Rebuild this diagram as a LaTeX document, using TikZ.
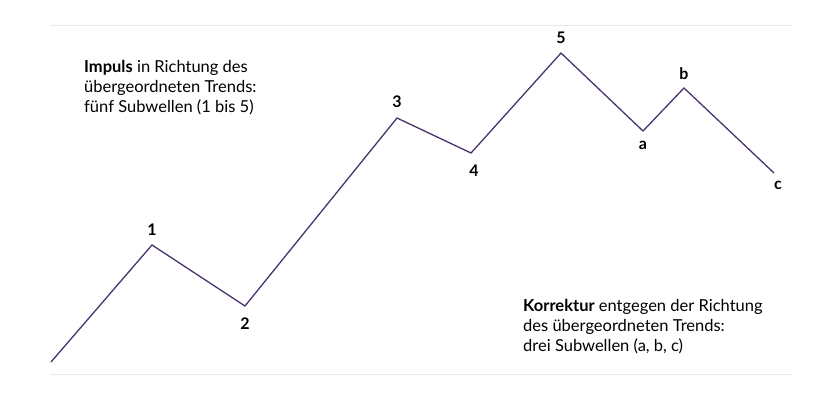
\documentclass[tikz,border=0pt]{standalone}
\usepackage{fontspec}
\setmainfont{Lato}
\definecolor{wave}{RGB}{75,50,110}
\definecolor{rule}{RGB}{232,232,232}
\begin{document}
\begin{tikzpicture}[x=1pt,y=-1pt,
  lbl/.style={font=\fontsize{16}{18}\selectfont\bfseries},
  txt/.style={font=\fontsize{16.5}{20}\selectfont,align=left,inner sep=0pt,anchor=west}]
\useasboundingbox (0,0) rectangle (840,397);
\draw[rule,line width=1pt] (50,25) -- (792,25);
\draw[rule,line width=1pt] (50,374) -- (792,374);
\coordinate (s) at (51,362);
\coordinate (p1) at (152,245);
\coordinate (p2) at (245,306);
\coordinate (p3) at (397,118);
\coordinate (p4) at (471,153);
\coordinate (p5) at (561,53);
\coordinate (pa) at (643,131);
\coordinate (pb) at (684,88);
\coordinate (pc) at (774,173);
\draw[wave,line width=1.3pt,line join=miter] (s) -- (p1) -- (p2) -- (p3) -- (p4) -- (p5) -- (pa) -- (pb) -- (pc);
\node[lbl] (l1) at (152,230) {1};
\node[lbl] (l2) at (245,324) {2};
\node[lbl] (l3) at (397,102) {3};
\node[lbl] (l4) at (474,171) {4};
\node[lbl] (l5) at (561,38) {5};
\node[lbl] (la) at (643,145) {a};
\node[lbl] (lb) at (684,74) {b};
\node[lbl] (lc) at (778,185) {c};
\node[txt] (t1) at (84,88) {\textbf{Impuls} in Richtung des\\übergeordneten Trends:\\fünf Subwellen (1 bis 5)};
\node[txt] (t2) at (523,327) {\textbf{Korrektur} entgegen der Richtung\\des übergeordneten Trends:\\drei Subwellen (a, b, c)};
\end{tikzpicture}
\end{document}
